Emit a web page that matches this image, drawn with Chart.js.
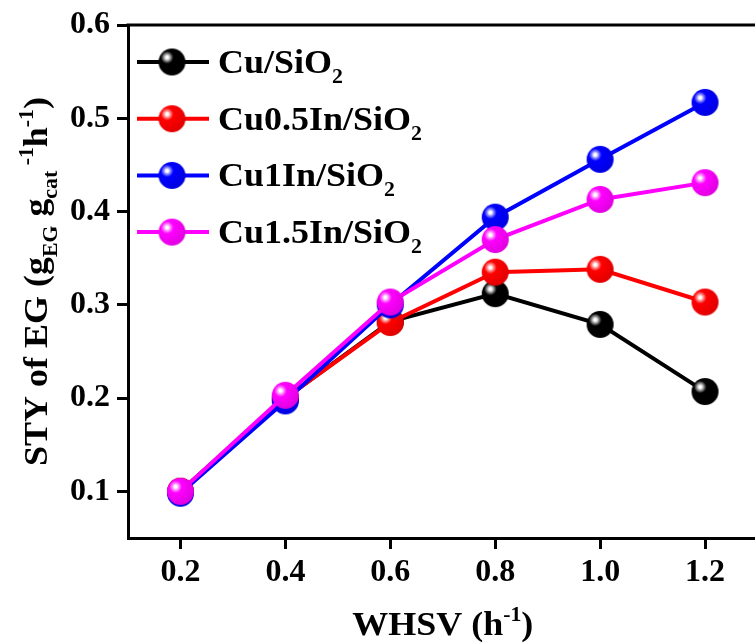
<!DOCTYPE html>
<html>
<head>
<meta charset="utf-8">
<script src="https://cdn.jsdelivr.net/npm/chart.js@4/dist/chart.umd.min.js"></script>
<style>
  html, body { margin: 0; padding: 0; background: #ffffff; overflow: hidden; }
  #wrap { width: 755px; height: 644px; overflow: hidden; position: relative; background: #ffffff; }
  #c { display: block; }
</style>
</head>
<body>
<div id="wrap"><canvas id="c" width="775" height="644"></canvas></div>
<script>
// Weight hourly space velocity (h^-1)
const whsv = [0.2, 0.4, 0.6, 0.8, 1.0, 1.2];

// Space-time yield of EG for each catalyst
const cuSiO2      = [0.100, 0.200, 0.282, 0.312, 0.279, 0.207];
const cu05InSiO2  = [0.100, 0.200, 0.281, 0.335, 0.338, 0.303];
const cu1InSiO2   = [0.098, 0.197, 0.300, 0.394, 0.456, 0.517];
const cu15InSiO2  = [0.100, 0.203, 0.303, 0.370, 0.413, 0.431];

// Legend names (the trailing "2" is written as a subscript)
const seriesNames = ['Cu/SiO', 'Cu0.5In/SiO', 'Cu1In/SiO', 'Cu1.5In/SiO'];
const seriesSub = '2';
const seriesColors = ['#000000', '#ff0000', '#0000ff', '#ff00ff'];

// Axis ticks
const xTicks = [0.2, 0.4, 0.6, 0.8, 1.0, 1.2];
const yTicks = [0.1, 0.2, 0.3, 0.4, 0.5, 0.6];

const FONT = "'Liberation Serif', 'Times New Roman', serif";
const BALL_R = 13.5;
const TEXT_STRETCH = 1.09;

// Shaded sphere marker
function mix(hex, other, t) {
  const a = [1, 3, 5].map(i => parseInt(hex.substr(i, 2), 16));
  const b = [1, 3, 5].map(i => parseInt(other.substr(i, 2), 16));
  const m = a.map((v, i) => Math.round(v + (b[i] - v) * t));
  return 'rgb(' + m.join(',') + ')';
}
function ball(color, r) {
  const s = Math.ceil(r * 2) + 2;
  const c = document.createElement('canvas');
  c.width = s; c.height = s;
  const g = c.getContext('2d');
  const cx = s / 2, cy = s / 2;
  const hx = cx - r * 0.36, hy = cy - r * 0.34;
  const grad = g.createRadialGradient(hx, hy, 0, hx, hy, r * 1.45);
  const isBlack = color === '#000000';
  grad.addColorStop(0, '#ffffff');
  grad.addColorStop(0.07, '#ffffff');
  grad.addColorStop(0.17, isBlack ? '#9a9a9a' : mix(color, '#ffffff', 0.55));
  grad.addColorStop(0.32, color);
  grad.addColorStop(1, isBlack ? '#000000' : mix(color, '#000000', 0.12));
  g.fillStyle = grad;
  g.beginPath();
  g.arc(cx, cy, r, 0, Math.PI * 2);
  g.fill();
  return c;
}
const balls = seriesColors.map(c => ball(c, BALL_R));

const seriesValues = [cuSiO2, cu05InSiO2, cu1InSiO2, cu15InSiO2];
const datasets = seriesValues.map((vals, i) => ({
  label: seriesNames[i] + seriesSub,
  data: whsv.map((x, k) => ({ x: x, y: vals[k] })),
  borderColor: seriesColors[i],
  backgroundColor: seriesColors[i],
  borderWidth: 4,
  tension: 0,
  pointStyle: balls[i],
  pointRadius: BALL_R,
  order: 3 - i
}));

// Draw a run of text pieces: [text, kind] where kind is '', 'sub' or 'sup'
function drawRich(ctx, parts, x, y, size, align) {
  const small = Math.round(size * 0.62);
  const fontOf = k => 'bold ' + (k ? small : size) + 'px ' + FONT;
  let total = 0;
  parts.forEach(([t, k]) => { ctx.font = fontOf(k); total += ctx.measureText(t).width; });
  ctx.save();
  ctx.translate(x, y);
  ctx.scale(TEXT_STRETCH, 1);
  let cx = align === 'center' ? -total / 2 : 0;
  ctx.textAlign = 'left';
  ctx.textBaseline = 'alphabetic';
  parts.forEach(([t, k]) => {
    ctx.font = fontOf(k);
    const dy = k === 'sub' ? size * 0.3 : (k === 'sup' ? -size * 0.42 : 0);
    ctx.fillText(t, cx, dy);
    cx += ctx.measureText(t).width;
  });
  ctx.restore();
}

const decorations = {
  id: 'decorations',
  afterDraw(chart) {
    const ctx = chart.ctx;
    const a = chart.chartArea;
    ctx.save();
    // top frame line
    ctx.strokeStyle = '#000';
    ctx.lineWidth = 3;
    ctx.beginPath();
    ctx.moveTo(a.left - 1.5, a.top);
    ctx.lineTo(a.right + 1.5, a.top);
    ctx.stroke();
    ctx.fillStyle = '#000';

    // legend
    const ly0 = 62, lstep = 56.7;
    seriesNames.forEach((name, i) => {
      const y = ly0 + i * lstep;
      ctx.strokeStyle = seriesColors[i];
      ctx.lineWidth = 4;
      ctx.beginPath();
      ctx.moveTo(137, y);
      ctx.lineTo(209, y);
      ctx.stroke();
      ctx.drawImage(balls[i], 172 - balls[i].width / 2, y - balls[i].height / 2);
      ctx.fillStyle = '#000';
      drawRich(ctx, [[name, ''], [seriesSub, 'sub']], 218, y + 11, 33, 'left');
    });

    // x axis title
    drawRich(ctx, [['WHSV (h', ''], ['-1', 'sup'], [')', '']], (a.left + a.right) / 2, 635, 33, 'center');

    // y axis title
    ctx.translate(47, (a.top + a.bottom) / 2);
    ctx.rotate(-Math.PI / 2);
    drawRich(ctx, [['STY of EG (g', ''], ['EG', 'sub'], [' g', ''], ['cat', 'sub'], [' -1', 'sup'], ['h', ''], ['-1', 'sup'], [')', '']], 0, 0, 33, 'center');
    ctx.restore();
  }
};

new Chart(document.getElementById('c'), {
  type: 'line',
  data: { datasets: datasets },
  plugins: [decorations],
  options: {
    responsive: false,
    animation: false,
    devicePixelRatio: 1,
    layout: { padding: { left: 0, top: 25, right: 12, bottom: 0 } },
    plugins: { legend: { display: false }, tooltip: { enabled: false } },
    scales: {
      x: {
        type: 'linear',
        min: 0.1,
        max: 1.3,
        afterBuildTicks(s) { s.ticks = xTicks.map(v => ({ value: v })); },
        afterFit(s) { s.height = 106; s.paddingLeft = 0; s.paddingRight = 0; },
        ticks: {
          color: '#000',
          font: { family: FONT, size: 32, weight: 'bold' },
          padding: 5,
          maxRotation: 0,
          autoSkip: false,
          callback: v => Number(v).toFixed(1)
        },
        grid: { drawOnChartArea: false, drawTicks: true, tickLength: 11, tickWidth: 3, tickColor: '#000' },
        border: { display: true, width: 3, color: '#000' }
      },
      y: {
        type: 'linear',
        min: 0.05,
        max: 0.6,
        afterBuildTicks(s) { s.ticks = yTicks.map(v => ({ value: v })); },
        afterFit(s) { s.width = 128; s.paddingTop = 0; s.paddingBottom = 0; },
        ticks: {
          color: '#000',
          font: { family: FONT, size: 32, weight: 'bold' },
          padding: 7,
          autoSkip: false,
          callback: v => Number(v).toFixed(1)
        },
        grid: { drawOnChartArea: false, drawTicks: true, tickLength: 11, tickWidth: 3, tickColor: '#000' },
        border: { display: true, width: 3, color: '#000' }
      }
    }
  }
});
</script>
</body>
</html>
